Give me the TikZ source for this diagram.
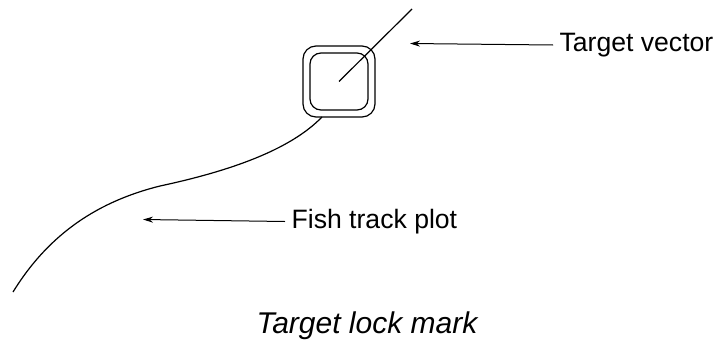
\documentclass[tikz,border=0pt]{standalone}
\usepackage{fontspec}
\setmainfont{Liberation Sans}
\usetikzlibrary{arrows.meta}

\tikzset{
  callout/.style={anchor=west, inner sep=3pt, font=\fontsize{13.3}{15}\selectfont},
  pointer/.style={-{Stealth[length=5pt,width=3pt]}, line width=0.5pt},
}

\begin{document}
\begin{tikzpicture}[x=0.5pt, y=-0.5pt, line width=0.6pt]
\useasboundingbox (0,0) rectangle (718,354);
% lock mark
\node[draw, rounded corners=6.5pt, minimum width=36pt, minimum height=35.5pt, inner sep=0pt] (mark) at (339,81.5) {};
\node[draw, rounded corners=5.5pt, minimum width=29pt, minimum height=28.5pt, inner sep=0pt] (inner) at (mark.center) {};
\coordinate (vtip) at (412,9);
\draw (mark.center) -- (vtip);
% fish track
\coordinate (tstart) at (322,117);
\coordinate (tmid) at (160,186);
\coordinate (tend) at (13,292);
\draw (tstart) .. controls (290,150) and (230,171) .. (tmid)
      .. controls (100,201) and (50,232) .. (tend);
% labels
\node[callout] (vlabel) at (553,45) {Target vector};
\coordinate (vhead) at (410,43.5);
\draw[pointer] (vlabel.west) -- (vhead);
\node[callout] (flabel) at (285,221.5) {Fish track plot};
\coordinate (fhead) at (143,219.5);
\draw[pointer] (flabel.west) -- (fhead);
\node[font=\fontsize{15}{17}\selectfont\itshape] (caption) at (367,326) {Target lock mark};
\end{tikzpicture}
\end{document}
